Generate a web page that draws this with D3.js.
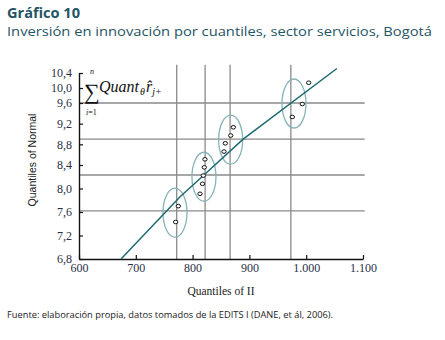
<!DOCTYPE html>
<html>
<head>
<meta charset="utf-8">
<script src="https://cdn.jsdelivr.net/npm/d3@7"></script>
<style>
  body { margin: 0; background: #fff; }
  svg { display: block; }
</style>
</head>
<body>
<svg id="grafico"></svg>
<script>
const WIDTH = 445,
    HEIGHT = 340;

// datos
const xTicks = [600, 700, 800, 900, 1000, 1100];
const xTickLabels = ["600", "700", "800", "900", "1.000", "1.100"];
const yTicks = [6.8, 7.2, 7.6, 8.0, 8.4, 8.8, 9.2, 9.6, 10.0, 10.4];
const yTickLabels = ["6,8", "7,2", "7,6", "8,0", "8,4", "8,8", "9,2", "9,6", "10,0", "10,4"];

const puntosX = [774.8, 770.2, 821.8, 820.6, 818.8, 817.4, 813, 871.7, 867.1, 857.6, 855.3, 1004.4, 993.1, 975.5];
const puntosY = [7.70, 7.43, 8.51, 8.36, 8.22, 8.08, 7.91, 9.13, 8.97, 8.82, 8.66, 10.14, 9.58, 9.33];

const grupoX = [769, 820, 867, 978.5];
const grupoY = [7.59, 8.20, 8.89, 9.59];

const lineasX = [772, 822, 866, 973];
const lineasY = [7.62, 8.23, 8.9, 9.6];

const ajusteX = [674, 778, 820, 889, 1054];
const ajusteY = [6.8, 7.86, 8.23, 8.90, 10.52];

const svg = d3.select("#grafico")
    .attr("width", WIDTH)
    .attr("height", HEIGHT);

const escalaX = d3.scaleLinear()
    .domain([600, 1100])
    .range([79, 363]);

// el eje vertical del original no es uniforme
const escalaY = d3.scaleLinear()
    .domain([6.8, 8.4, 9.6, 10.4])
    .range([259, 165, 103, 73]);

// títulos
svg.append("text")
    .attr("x", 7).attr("y", 18)
    .attr("font-family", "'Open Sans', sans-serif")
    .attr("font-size", 14).attr("font-weight", "bold")
    .attr("fill", "#1f5565")
    .attr("textLength", 73).attr("lengthAdjust", "spacingAndGlyphs")
    .text("Gráfico 10");

svg.append("text")
    .attr("x", 7).attr("y", 36)
    .attr("font-family", "'Open Sans', sans-serif")
    .attr("font-size", 13.5)
    .attr("fill", "#1f5565")
    .attr("textLength", 425).attr("lengthAdjust", "spacingAndGlyphs")
    .text("Inversión en innovación por cuantiles, sector servicios, Bogotá");

// líneas de referencia
const contenedorLineas = svg.append("g")
    .attr("stroke", "#8a8a8a")
    .attr("stroke-width", 1.3);

contenedorLineas.selectAll("line.v")
    .data(lineasX)
    .join("line")
    .attr("class", "v")
    .attr("x1", d => escalaX(d)).attr("x2", d => escalaX(d))
    .attr("y1", escalaY(6.8)).attr("y2", escalaY(10.62));

contenedorLineas.selectAll("line.h")
    .data(lineasY)
    .join("line")
    .attr("class", "h")
    .attr("x1", escalaX(600)).attr("x2", escalaX(1103))
    .attr("y1", d => escalaY(d)).attr("y2", d => escalaY(d));

// ejes
const ejeX = d3.axisBottom(escalaX)
    .tickValues(xTicks)
    .tickFormat((d, i) => xTickLabels[i])
    .tickSizeInner(-4)
    .tickSizeOuter(0)
    .tickPadding(4);

const contenedorEjeX = svg.append("g")
    .attr("transform", `translate(0 ${escalaY(6.8)})`)
    .call(ejeX);

const ejeY = d3.axisLeft(escalaY)
    .tickValues(yTicks)
    .tickFormat((d, i) => yTickLabels[i])
    .tickSizeInner(-4)
    .tickSizeOuter(0)
    .tickPadding(7);

const contenedorEjeY = svg.append("g")
    .attr("transform", `translate(${escalaX(600)} 0)`)
    .call(ejeY);

[contenedorEjeX, contenedorEjeY].forEach(eje => {
    eje.select(".domain").attr("stroke", "#111").attr("stroke-width", 1.4);
    eje.selectAll(".tick line").attr("stroke", "#111").attr("stroke-width", 1.2);
    eje.selectAll(".tick text")
        .attr("font-family", "'Liberation Serif', 'Times New Roman', serif")
        .attr("font-size", 12)
        .attr("fill", "#2a2f45");
});

// títulos de ejes
svg.append("text")
    .attr("x", 221).attr("y", 295)
    .attr("text-anchor", "middle")
    .attr("font-family", "'Liberation Serif', serif")
    .attr("font-size", 11.5)
    .attr("fill", "#222")
    .text("Quantiles of II");

svg.append("text")
    .attr("transform", "translate(36 160) rotate(-90)")
    .attr("text-anchor", "middle")
    .attr("font-family", "'Liberation Sans', Arial, sans-serif")
    .attr("font-size", 10.5)
    .attr("fill", "#222")
    .text("Quantiles of Normal");

// elipses de agrupación
svg.append("g")
    .selectAll("ellipse")
    .data(grupoX)
    .join("ellipse")
    .attr("cx", d => escalaX(d))
    .attr("cy", (d, i) => escalaY(grupoY[i]))
    .attr("rx", 12)
    .attr("ry", 24.5)
    .attr("fill", "none")
    .attr("stroke", "#86b3b8")
    .attr("stroke-width", 1.3);

// recta de ajuste
const linea = d3.line()
    .x(d => escalaX(d[0]))
    .y(d => escalaY(d[1]));

svg.append("path")
    .datum(ajusteX.map((x, i) => [x, ajusteY[i]]))
    .attr("d", linea)
    .attr("fill", "none")
    .attr("stroke", "#1d6a72")
    .attr("stroke-width", 1.5);

// puntos
svg.append("g")
    .selectAll("ellipse")
    .data(puntosX)
    .join("ellipse")
    .attr("cx", d => escalaX(d))
    .attr("cy", (d, i) => escalaY(puntosY[i]))
    .attr("rx", 2.2)
    .attr("ry", 1.8)
    .attr("fill", "#fff")
    .attr("stroke", "#111")
    .attr("stroke-width", 1);

// fórmula
const formula = svg.append("g")
    .attr("font-family", "'Liberation Serif', 'Times New Roman', serif")
    .attr("fill", "#111");

formula.append("text")
    .attr("x", 84).attr("y", 99)
    .attr("font-size", 22)
    .text("∑");
formula.append("text")
    .attr("x", 90).attr("y", 74)
    .attr("font-size", 8).attr("font-style", "italic")
    .text("n");
formula.append("text")
    .attr("x", 86).attr("y", 115)
    .attr("font-size", 8)
    .html('<tspan font-style="italic">i</tspan>=1');
formula.append("text")
    .attr("x", 99).attr("y", 92)
    .attr("font-size", 16).attr("font-style", "italic")
    .html('Quant<tspan font-size="10" dy="3" dx="1">θ</tspan><tspan dy="-3" dx="1">r̂</tspan><tspan font-size="10" dy="3">j+</tspan>');

// fuente
svg.append("text")
    .attr("x", 7).attr("y", 318)
    .attr("font-family", "'Open Sans', sans-serif")
    .attr("font-size", 8.5)
    .attr("fill", "#222")
    .attr("textLength", 326).attr("lengthAdjust", "spacingAndGlyphs")
    .text("Fuente: elaboración propia, datos tomados de la EDITS I (DANE, et ál, 2006).");
</script>
</body>
</html>
